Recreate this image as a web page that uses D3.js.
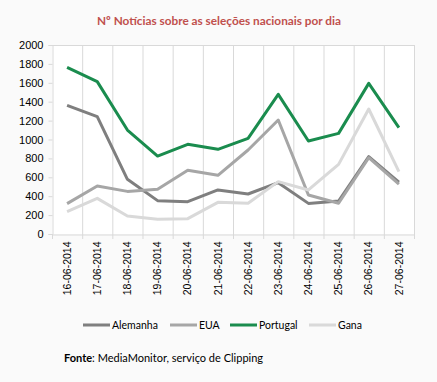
<!DOCTYPE html>
<html>
<head>
<meta charset="utf-8">
<script src="https://cdn.jsdelivr.net/npm/d3@7"></script>
<style>
  body { margin: 0; background: #fafafa; }
  svg { font-family: Lato, "Open Sans", sans-serif; }
</style>
</head>
<body>
<svg id="chart" width="437" height="382"></svg>
<script>
const dates = ["16-06-2014", "17-06-2014", "18-06-2014", "19-06-2014", "20-06-2014", "21-06-2014",
               "22-06-2014", "23-06-2014", "24-06-2014", "25-06-2014", "26-06-2014", "27-06-2014"];
const alemanha = [1362, 1242, 579, 353, 342, 466, 423, 543, 324, 349, 818, 550];
const eua      = [321, 508, 451, 473, 674, 621, 889, 1206, 413, 325, 807, 529];
const portugal = [1764, 1612, 1100, 825, 949, 896, 1012, 1478, 984, 1065, 1594, 1125];
const gana     = [236, 377, 190, 155, 162, 335, 325, 554, 466, 737, 1323, 659];
const yTicks = [0, 200, 400, 600, 800, 1000, 1200, 1400, 1600, 1800, 2000];

const series = [
    { name: "Alemanha", values: alemanha, color: "#7f7f7f" },
    { name: "EUA", values: eua, color: "#a6a6a6" },
    { name: "Portugal", values: portugal, color: "#1a8c4e" },
    { name: "Gana", values: gana, color: "#d9d9d9" }
];

const svg = d3.select("#chart");
const m = { left: 52, right: 414, top: 45, bottom: 234 };

const x = d3.scaleBand().domain(dates).range([m.left, m.right]);
const y = d3.scaleLinear().domain([0, 2000]).range([m.bottom, m.top]);

// plot area
svg.append("rect")
    .attr("x", m.left).attr("y", m.top)
    .attr("width", m.right - m.left).attr("height", m.bottom - m.top)
    .attr("fill", "#fff");

// vertical gridlines at band edges
const edges = dates.map(d => x(d)).concat([m.right]);
svg.append("g").selectAll("line").data(edges.slice(1)).enter().append("line")
    .attr("x1", d => d + 0.5).attr("x2", d => d + 0.5)
    .attr("y1", m.top).attr("y2", m.bottom)
    .attr("stroke", "#d9d9d9");
svg.append("line")
    .attr("x1", m.left).attr("x2", m.right)
    .attr("y1", m.top + 0.5).attr("y2", m.top + 0.5)
    .attr("stroke", "#d9d9d9");

// y axis
const yAxis = svg.append("g")
    .attr("transform", `translate(${m.left + 0.5},0)`)
    .call(d3.axisLeft(y).tickValues(yTicks).tickFormat(d3.format("d")).tickSize(4).tickPadding(5));
yAxis.select(".domain").attr("stroke", "#d9d9d9");
yAxis.selectAll(".tick line").attr("stroke", "#d9d9d9");
yAxis.selectAll("text").attr("font-size", 11).attr("fill", "#000");

// x axis
const xAxis = svg.append("g")
    .attr("transform", `translate(0,${m.bottom + 0.5})`)
    .call(d3.axisBottom(x).tickSize(0).tickPadding(0));
xAxis.select(".domain").attr("stroke", "#d9d9d9");
xAxis.selectAll(".tick text")
    .attr("font-size", 10.5).attr("fill", "#000")
    .attr("transform", "rotate(-90)")
    .attr("text-anchor", "end")
    .attr("dx", "-7px").attr("dy", "0.35em").attr("y", 0);
svg.append("g").selectAll("line").data(edges).enter().append("line")
    .attr("x1", d => d + 0.5).attr("x2", d => d + 0.5)
    .attr("y1", m.bottom).attr("y2", m.bottom + 5)
    .attr("stroke", "#d9d9d9");

// lines
const line = d3.line()
    .x((v, i) => x(dates[i]) + x.bandwidth() / 2)
    .y(v => y(v));
svg.append("g").selectAll("path").data(series).enter().append("path")
    .attr("d", d => line(d.values))
    .attr("fill", "none")
    .attr("stroke", d => d.color)
    .attr("stroke-width", 3)
    .attr("stroke-linejoin", "round");

// title
svg.append("text")
    .attr("x", 219).attr("y", 25)
    .attr("text-anchor", "middle")
    .attr("font-size", 11.8).attr("font-weight", "bold")
    .attr("fill", "#c0504d")
    .text("Nº Notícias sobre as seleções nacionais por dia");

// legend
const legendX = [83, 170, 230, 309];
const lg = svg.append("g").selectAll("g").data(series).enter().append("g")
    .attr("transform", (d, i) => `translate(${legendX[i]},325)`);
lg.append("line")
    .attr("x1", 0).attr("x2", 27)
    .attr("stroke", d => d.color).attr("stroke-width", 3);
lg.append("text")
    .attr("x", 29).attr("dy", "0.35em")
    .attr("font-size", 10.5).attr("fill", "#000")
    .text(d => d.name);

// source
const src = svg.append("text")
    .attr("x", 64).attr("y", 362)
    .attr("font-size", 11).attr("fill", "#000");
src.append("tspan").attr("font-weight", "bold").text("Fonte");
src.append("tspan").text(": MediaMonitor, serviço de Clipping");
</script>
</body>
</html>
